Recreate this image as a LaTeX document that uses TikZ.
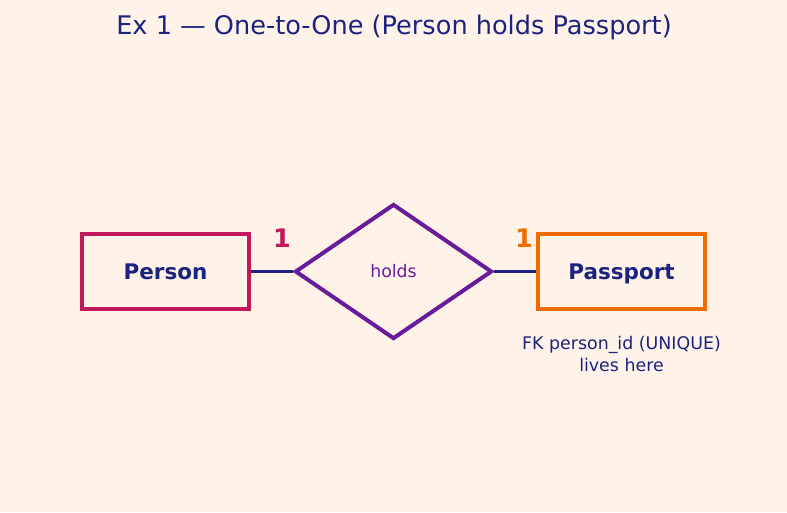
\documentclass[tikz,border=0pt]{standalone}
\usepackage{fontspec}
\setmainfont{DejaVu Sans}
\usetikzlibrary{shapes.geometric}
\definecolor{bg}{HTML}{FFF3E9}
\definecolor{navy}{HTML}{1A237E}
\definecolor{crim}{HTML}{C2185B}
\definecolor{purp}{HTML}{6A1B9A}
\definecolor{orng}{HTML}{EF6C00}
\tikzset{
  entity/.style={draw, line width=4pt, minimum width=167pt, minimum height=75pt, inner sep=0pt, text=navy, font=\fontsize{21.5}{25}\selectfont\bfseries, text height=15pt, text depth=0pt},
  rel/.style={draw=purp, line width=4pt, diamond, aspect=1.46, minimum width=197pt, minimum height=135pt, inner sep=0pt, text=purp, font=\fontsize{17.3}{20}\selectfont},
  conn/.style={draw=navy, line width=3.5pt},
  card/.style={font=\fontsize{25.5}{30}\selectfont\bfseries},
}
\begin{document}
\begin{tikzpicture}[x=1pt,y=-1pt]
\fill[bg] (0,0) rectangle (787,512);
\useasboundingbox (0,0) rectangle (787,512);
\node[text=navy, font=\fontsize{25.6}{30}\selectfont] (title) at (394,27.5) {Ex 1 — One-to-One (Person holds Passport)};
\node[entity, draw=crim] (person) at (165.5,271.5) {Person};
\node[rel] (holds) at (393.5,271.5) {holds};
\node[entity, draw=orng] (passport) at (621.5,271.5) {Passport};
\draw[conn] (person.east) -- (holds.west);
\draw[conn] (holds.east) -- (passport.west);
\node[card, text=crim] (c1) at (282,238.5) {1};
\node[card, text=orng] (c2) at (524,238.5) {1};
\node[text=navy, font=\fontsize{17.4}{21.5}\selectfont, align=center] (note) at (621.5,354) {FK person\_id (UNIQUE)\\lives here};
\end{tikzpicture}
\end{document}
